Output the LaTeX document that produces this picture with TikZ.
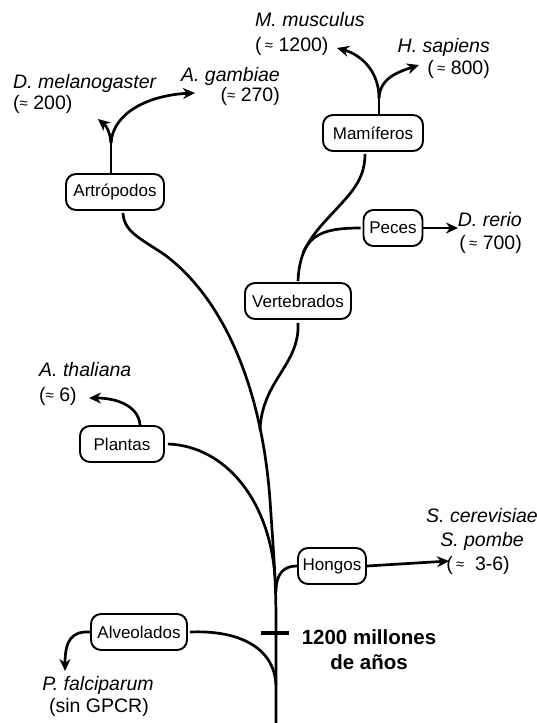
\documentclass[tikz,border=0pt]{standalone}
\usepackage{fontspec}
\setmainfont{Liberation Sans}
\usetikzlibrary{arrows.meta}
\newcommand{\approxsym}{{\fontsize{15}{16}\selectfont\raisebox{0.8pt}{≈}}}
\begin{document}
\begin{tikzpicture}[x=1pt,y=-1pt,
  box/.style={draw, rounded corners=10pt, line width=1.9pt, minimum height=36pt, inner xsep=2pt,
              font=\fontsize{17}{19}\selectfont},
  br/.style={line width=2.7pt},
  arr/.style={line width=2.7pt, -{Stealth[length=12pt,width=11pt]}},
  sp/.style={font=\fontsize{19.5}{22}\selectfont\itshape, inner sep=0pt},
  num/.style={font=\fontsize{19.5}{22}\selectfont, inner sep=0pt},
  bold/.style={font=\fontsize{20.5}{24}\selectfont\bfseries, inner sep=0pt}]
\useasboundingbox (0,0) rectangle (537,723);

% boxes
\node[box, minimum width=98pt]  (art) at (115,192) {Artrópodos};
\node[box, minimum width=100pt] (mam) at (373,133) {Mamíferos};
\node[box, minimum width=59pt]  (pec) at (393,228) {Peces};
\node[box, minimum width=106pt] (ver) at (298,301) {Vertebrados};
\node[box, minimum width=84pt]  (pla) at (122,444) {Plantas};
\node[box, minimum width=68pt]  (hon) at (332,566) {Hongos};
\node[box, minimum width=96pt]  (alv) at (139,632) {Alveolados};

% labels
\node[sp, anchor=mid west]  (musc1) at (255,24) {M. musculus};
\node[num, anchor=mid west] (musc2) at (255,49) {(\,\approxsym\ 1200)};
\node[sp, anchor=mid east]  (sap1) at (490,50) {H. sapiens};
\node[num, anchor=mid east] (sap2) at (490,72) {(\,\approxsym\ 800)};
\node[sp, anchor=mid east]  (gam1) at (280,79) {A. gambiae};
\node[num, anchor=mid east] (gam2) at (280,99) {(\approxsym\ 270)};
\node[sp, anchor=mid west]  (mel1) at (13,86) {D. melanogaster};
\node[num, anchor=mid west] (mel2) at (13,107) {(\approxsym\ 200)};
\node[sp, anchor=mid east]  (rer1) at (522,224) {D. rerio};
\node[num, anchor=mid east] (rer2) at (522,247) {(\,\approxsym\ 700)};
\node[sp, anchor=mid west]  (tha1) at (39,374) {A. thaliana};
\node[num, anchor=mid west] (tha2) at (39,399) {(\approxsym\ 6)};
\node[sp, anchor=mid]  (cer) at (482,520) {S. cerevisiae};
\node[sp, anchor=mid]  (pom) at (482,544) {S. pombe};
\node[num, anchor=mid] (hnum) at (478,568) {(\,\approxsym\ \ 3-6)};
\node[bold, anchor=mid] (mil1) at (369,642) {1200 millones};
\node[bold, anchor=mid] (mil2) at (369,667) {de años};
\node[sp, anchor=mid]  (fal1) at (98,688) {P. falciparum};
\node[num, anchor=mid] (fal2) at (99,710) {(sin GPCR)};

% coordinates
\coordinate (bot) at (276,723);
\coordinate (artf) at (111,143);
\coordinate (melt) at (98,119);
\coordinate (gamt) at (195,93);
\coordinate (mamf) at (379,98);
\coordinate (musct) at (337,48);
\coordinate (sapt) at (419,65);
\coordinate (rert) at (458,228);
\coordinate (that) at (89,398);
\coordinate (hont) at (449,561);
\coordinate (falt) at (65,671);
\coordinate (tickl) at (261,633);
\coordinate (tickr) at (289,633);

% trunk
\draw[br] ([xshift=8pt,yshift=-2pt]art.south) .. controls (124,232) and (140,238) .. (165,255)
   .. controls (225,300) and (262,390) .. (270,500)
   .. controls (273,545) and (276,580) .. (276,620) -- (bot);
% vertebrates
\draw[br] ([yshift=-3pt]ver.south) .. controls (300,365) and (262,380) .. (260,430);
\draw[br] ([yshift=1pt]ver.north) .. controls (299,258) and (305,245) .. (320,227)
   .. controls (345,198) and (365,185) .. ([xshift=-8pt,yshift=-2pt]mam.south);
\draw[br] ([xshift=-2pt]pec.west) .. controls (330,228) and (312,232) .. (303,253);
\draw[arr] (pec.east) -- (rert);
% mammals
\draw[br] ([xshift=6pt]mam.north) -- (mamf);
\draw[arr] (mamf) .. controls (379,72) and (362,55) .. (musct);
\draw[arr] (mamf) .. controls (380,78) and (398,72) .. (sapt);
% arthropods
\draw[br] ([xshift=-4pt]art.north) -- (artf);
\draw[arr] (artf) .. controls (110,130) and (105,125) .. (melt);
\draw[arr] (artf) .. controls (113,112) and (150,95) .. (gamt);
% plants
\draw[arr] ([xshift=18pt]pla.north) .. controls (139,408) and (120,398) .. (that);
\draw[br] ([xshift=3pt]pla.east) .. controls (225,446) and (270,500) .. (275,578);
% fungi
\draw[br] (hon.west) .. controls (285,566) and (276,572) .. (276,592);
\draw[arr] (hon.east) -- (hont);
% alveolates
\draw[br] ([xshift=2pt]alv.east) .. controls (235,630) and (274,645) .. (276,685);
\draw[arr] (alv.west) .. controls (72,631) and (65,640) .. (falt);
% tick
\draw[line width=4.7pt] (tickl) -- (tickr);
\end{tikzpicture}
\end{document}
